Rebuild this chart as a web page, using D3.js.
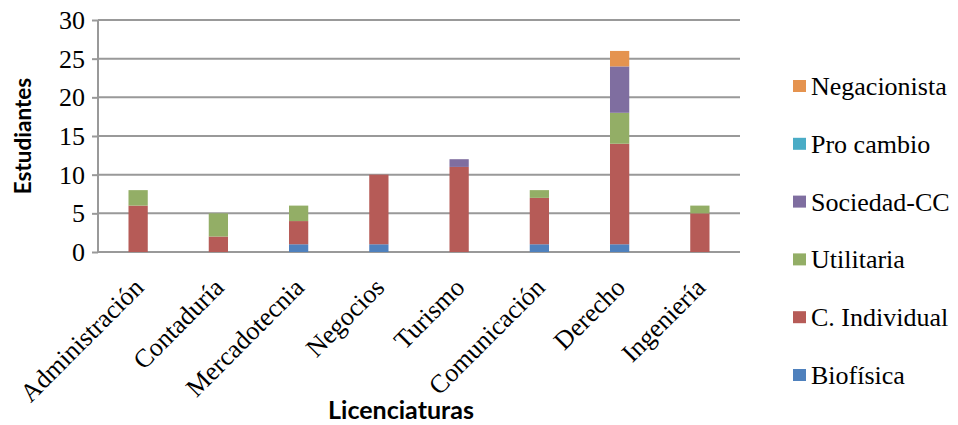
<!DOCTYPE html>
<meta charset="utf-8">
<style>
body{ margin:0; background:#fff; }
.tick text{ font-family:"Liberation Serif","Times New Roman",serif; font-size:26px; fill:#000; }
.grid line{ stroke:#999; stroke-width:2px; }
.axis path{ display:none; }
.axis line{ stroke:#999; stroke-width:2px; }
.title{ font-family:Lato,"Open Sans",sans-serif; font-weight:bold; fill:#000; }
.legend text{ font-family:"Liberation Serif","Times New Roman",serif; font-size:26px; fill:#000; }
.xlab{ font-family:"Liberation Serif","Times New Roman",serif; font-size:26px; fill:#000; }
</style>
<body>
<div id="chart"></div>
<script src="https://d3js.org/d3.v7.min.js"></script>
<script>
// licenciaturas
var categories = ["Administración","Contaduría","Mercadotecnia","Negocios","Turismo","Comunicación","Derecho","Ingeniería"];
// series, bottom to top
var seriesNames = ["Biofísica","C. Individual","Utilitaria","Sociedad-CC","Pro cambio","Negacionista"];
var seriesColors = ["#4f81bd","#b65b57","#93ae66","#7f6ea0","#4aacc6","#e5934f"];
var biofisica   = [0,0,1,1,0,1,1,0];
var cIndividual = [6,2,3,9,11,6,13,5];
var utilitaria  = [2,3,2,0,0,1,4,1];
var sociedadCC  = [0,0,0,0,1,0,6,0];
var proCambio   = [0,0,0,0,0,0,0,0];
var negacionista= [0,0,0,0,0,0,2,0];
var yTicks = [0,5,10,15,20,25,30];

var W = 958, H = 425;
var pL = 98, pR = 740, pT = 20, pB = 252;

var svg = d3.select("#chart").append("svg").attr("width", W).attr("height", H);

var table = categories.map(function(c, i){
  return {cat:c, "Biofísica":biofisica[i], "C. Individual":cIndividual[i], "Utilitaria":utilitaria[i],
    "Sociedad-CC":sociedadCC[i], "Pro cambio":proCambio[i], "Negacionista":negacionista[i]};
});
var stacked = d3.stack().keys(seriesNames)(table);

var x = d3.scaleBand().domain(categories).range([pL, pR]).paddingInner(0.76).paddingOuter(0.38);
var y = d3.scaleLinear().domain([0, 30]).range([pB, pT]);

// gridlines
svg.append("g").attr("class","grid")
  .selectAll("line").data(yTicks).enter().append("line")
  .attr("x1", pL).attr("x2", pR)
  .attr("y1", d => y(d)).attr("y2", d => y(d));

// y axis
var yAxis = svg.append("g").attr("class","axis").attr("transform","translate("+pL+",0)")
  .call(d3.axisLeft(y).tickValues(yTicks).tickSize(6).tickPadding(7));
yAxis.selectAll(".tick text").attr("dy","0.33em");
svg.append("line").attr("x1", pL).attr("x2", pL).attr("y1", pT).attr("y2", pB)
  .style("stroke","#999").style("stroke-width","2px");

// bars
svg.append("g").selectAll("g").data(stacked).enter().append("g")
  .attr("fill", (d, i) => seriesColors[i])
  .selectAll("rect").data(d => d).enter().append("rect")
  .attr("x", d => x(d.data.cat))
  .attr("width", x.bandwidth())
  .attr("y", d => y(d[1]))
  .attr("height", d => y(d[0]) - y(d[1]));

// x labels
svg.append("g").selectAll("text").data(categories).enter().append("text")
  .attr("class","xlab")
  .attr("text-anchor","end")
  .attr("transform", d => "translate(" + (x(d) + x.bandwidth()/2 + 7) + "," + (pB + 37) + ") rotate(-45)")
  .text(d => d);

// axis titles
svg.append("text").attr("class","title").style("font-size","22.5px")
  .attr("transform","translate(31,136) rotate(-90)")
  .attr("text-anchor","middle").text("Estudiantes");
svg.append("text").attr("class","title").style("font-size","25px")
  .attr("x", 401).attr("y", 419).attr("text-anchor","middle").text("Licenciaturas");

// legend, top to bottom reversed
var legend = svg.append("g").attr("class","legend");
var order = seriesNames.slice().reverse();
var lg = legend.selectAll("g").data(order).enter().append("g")
  .attr("transform", (d, i) => "translate(793," + (86 + i*57.8) + ")");
lg.append("rect").attr("x",0).attr("y",-6).attr("width",13).attr("height",12)
  .attr("fill", d => seriesColors[seriesNames.indexOf(d)]);
lg.append("text").attr("x",18).attr("y",9).text(d => d);
</script>
</body>
